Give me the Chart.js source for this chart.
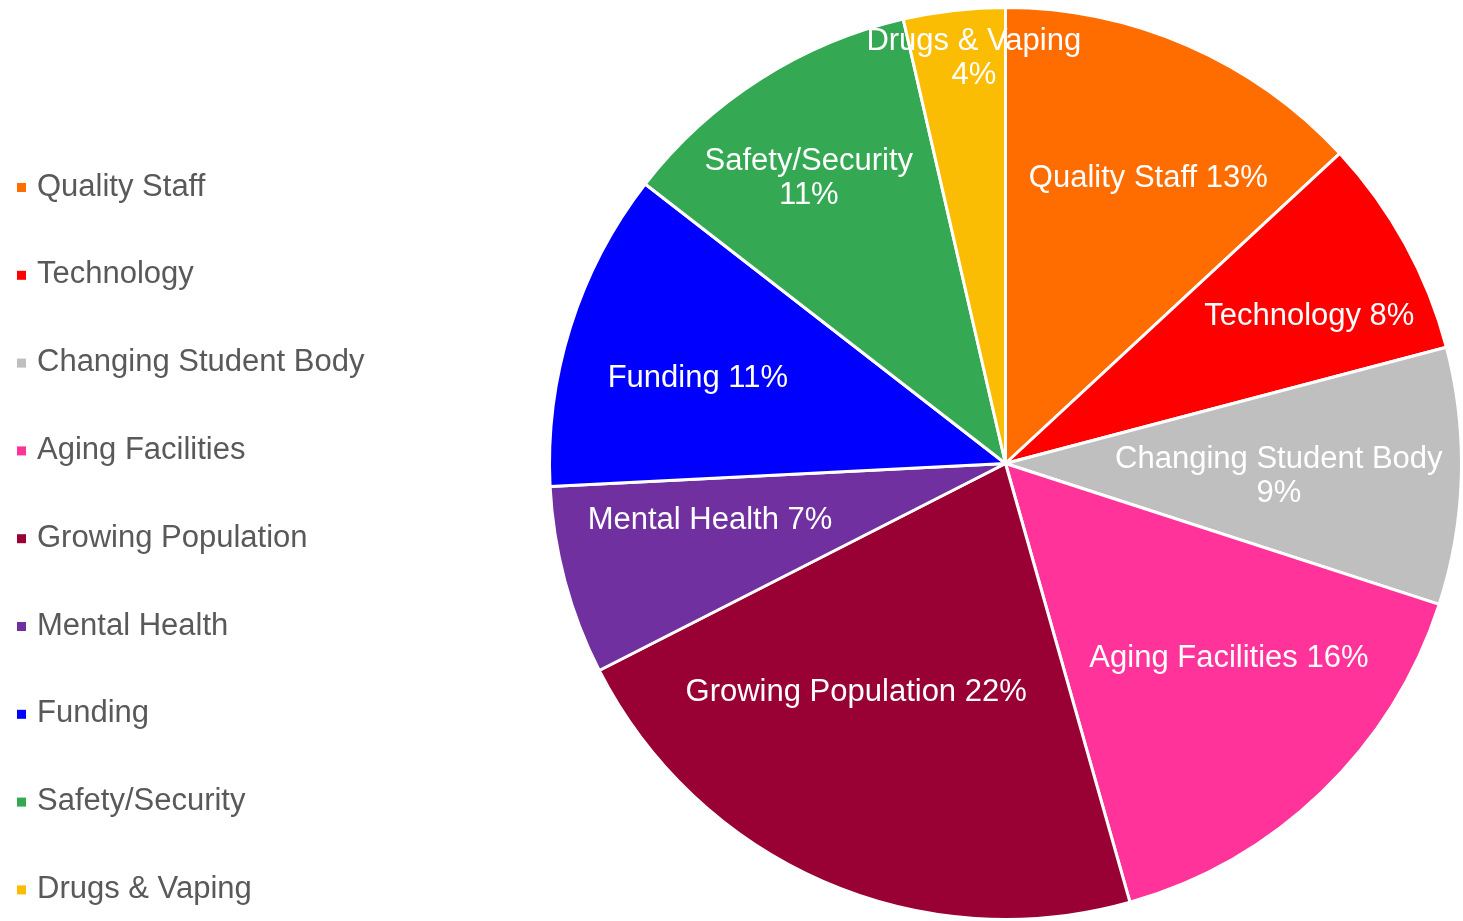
<!DOCTYPE html>
<html>
<head>
<meta charset="utf-8">
<script src="https://cdn.jsdelivr.net/npm/chart.js@4"></script>
<style>
  html, body { margin: 0; padding: 0; background: #fff; }
  #wrap { width: 1463px; height: 921px; position: relative; }
</style>
</head>
<body>
<div id="wrap"><canvas id="chart" width="1463" height="921"></canvas></div>
<script>
const categories = ["Quality Staff", "Technology", "Changing Student Body", "Aging Facilities",
    "Growing Population", "Mental Health", "Funding", "Safety/Security", "Drugs & Vaping"];
const shares = [13.1, 7.8, 9.1, 15.6, 21.9, 6.7, 11.3, 10.9, 3.6];
const colors = ["#FF6D01", "#FF0000", "#BFBFBF", "#FF3399", "#990033", "#7030A0", "#0000FF", "#34A853", "#FBBC04"];

const FONT = "31px 'Liberation Sans', Arial, sans-serif";

// labels inside slices, drawn at a fraction of the radius along the mid angle
const sliceLabels = {
    id: "sliceLabels",
    afterDatasetsDraw(chart, args, opts) {
        const ctx = chart.ctx;
        const meta = chart.getDatasetMeta(0);
        const total = shares.reduce((a, b) => a + b, 0);
        ctx.save();
        ctx.fillStyle = "#ffffff";
        ctx.font = FONT;
        ctx.textAlign = "center";
        ctx.textBaseline = "middle";
        meta.data.forEach((arc, i) => {
            const mid = (arc.startAngle + arc.endAngle) / 2 + (opts.turn[i] || 0) * Math.PI / 180;
            const r = arc.outerRadius * opts.radius[i];
            const x = arc.x + Math.cos(mid) * r;
            const y = arc.y + Math.sin(mid) * r;
            const pct = Math.round(shares[i] / total * 100) + "%";
            if (opts.wrap.includes(i)) {
                ctx.fillText(categories[i], x, y - 17);
                ctx.fillText(pct, x, y + 17);
            } else {
                ctx.fillText(categories[i] + " " + pct, x, y);
            }
        });
        ctx.restore();
    }
};

// legend on the left with small square markers
const sideLegend = {
    id: "sideLegend",
    afterDraw(chart, args, opts) {
        const ctx = chart.ctx;
        ctx.save();
        ctx.font = FONT;
        ctx.textBaseline = "middle";
        ctx.textAlign = "left";
        categories.forEach((name, i) => {
            const y = opts.top + i * opts.step;
            ctx.fillStyle = colors[i];
            ctx.fillRect(17, y - 4, 9, 9);
            ctx.fillStyle = "#595959";
            ctx.fillText(name, 37, y);
        });
        ctx.restore();
    }
};

function draw() {
    new Chart(document.getElementById("chart"), {
        type: "pie",
        data: {
            labels: categories,
            datasets: [{
                data: shares,
                backgroundColor: colors,
                borderColor: "#ffffff",
                borderWidth: 3
            }]
        },
        plugins: [sliceLabels, sideLegend],
        options: {
            responsive: false,
            animation: false,
            layout: {
                padding: { left: 548, right: 0, top: 6, bottom: 0 }
            },
            plugins: {
                legend: { display: false },
                tooltip: { enabled: false },
                sliceLabels: {
                    radius: [0.70, 0.74, 0.6, 0.65, 0.6, 0.66, 0.7, 0.76, 0.89],
                    turn: [3, 3, 1, -5, 9.5, 4, -2, -2, 2],
                    wrap: [2, 7, 8]
                },
                sideLegend: { top: 187, step: 87.8 }
            }
        }
    });
}

document.fonts.load(FONT).then(draw, draw);
</script>
</body>
</html>
